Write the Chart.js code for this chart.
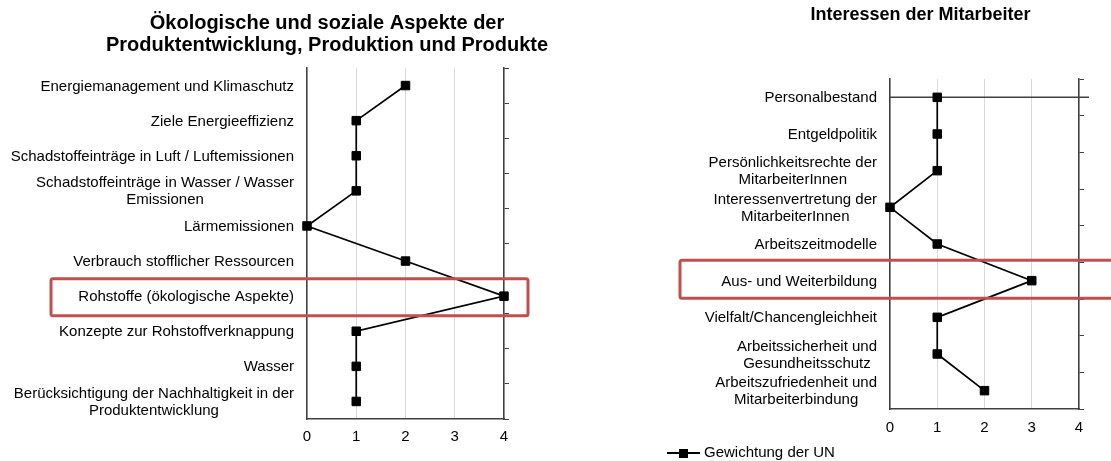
<!DOCTYPE html>
<html>
<head>
<meta charset="utf-8">
<script src="https://cdn.jsdelivr.net/npm/chart.js@4.4.1/dist/chart.umd.min.js"></script>
<style>
  html, body { margin: 0; padding: 0; width: 1111px; height: 461px; overflow: hidden; background: #fff; }
  .wrap { position: absolute; top: 0; height: 461px; }
  #w1 { left: 0; width: 654px; }
  #w2 { left: 660px; width: 521px; }
  #legend { position: absolute; left: 667px; top: 443px; font: 15px "Liberation Sans", Arial, sans-serif; line-height: 18px; color: #000; white-space: nowrap; }
  #legend .sym { display: inline-block; position: relative; width: 33px; height: 2px; background: #000; vertical-align: middle; margin-right: 4px; }
  #legend .sym i { position: absolute; left: 12px; top: -3.5px; width: 9px; height: 9px; background: #000; }
</style>
</head>
<body>
<div class="wrap" id="w1"><canvas id="chart_1"></canvas></div>
<div class="wrap" id="w2"><canvas id="chart_2"></canvas></div>
<div id="legend"><span class="sym"><i></i></span>Gewichtung der UN</div>

<script>
const FONT = '"Liberation Sans", Arial, sans-serif';

const seriesName = 'Gewichtung der UN';
const xTicks = [0, 1, 2, 3, 4];

const title1 = ['Ökologische und soziale Aspekte der', 'Produktentwicklung, Produktion und Produkte'];
const labels1 = [
  'Energiemanagement und Klimaschutz',
  'Ziele Energieeffizienz',
  'Schadstoffeinträge in Luft / Luftemissionen',
  ['Schadstoffeinträge in Wasser / Wasser', 'Emissionen'],
  'Lärmemissionen',
  'Verbrauch stofflicher Ressourcen',
  'Rohstoffe (ökologische Aspekte)',
  'Konzepte zur Rohstoffverknappung',
  'Wasser',
  ['Berücksichtigung der Nachhaltigkeit in der', 'Produktentwicklung']
];
const values1 = [2, 1, 1, 1, 0, 2, 4, 1, 1, 1];
const highlight1 = 6;

const title2 = 'Interessen der Mitarbeiter';
const labels2 = [
  'Personalbestand',
  'Entgeldpolitik',
  ['Persönlichkeitsrechte der', 'MitarbeiterInnen'],
  ['Interessenvertretung der', 'MitarbeiterInnen'],
  'Arbeitszeitmodelle',
  'Aus- und Weiterbildung',
  'Vielfalt/Chancengleichheit',
  ['Arbeitssicherheit und', 'Gesundheitsschutz'],
  ['Arbeitszufriedenheit und', 'Mitarbeiterbindung']
];
const values2 = [1, 1, 1, 0, 1, 3, 1, 1, 2];
const highlight2 = 5;

// category labels: block right-aligned, lines centred within the block
const catLabels = {
  id: 'catLabels',
  afterDraw(chart) {
    const ctx = chart.ctx;
    const ys = chart.scales.y;
    const right = chart.chartArea.left - 13;
    ctx.save();
    ctx.font = '15px ' + FONT;
    ctx.fillStyle = '#000';
    ctx.textAlign = 'center';
    ctx.textBaseline = 'middle';
    chart.data.labels.forEach((lab, i) => {
      const lines = [].concat(lab);
      const w = Math.max(...lines.map(l => ctx.measureText(l).width));
      const y = ys.getPixelForValue(i) + 1;
      lines.forEach((l, k) => {
        ctx.fillText(l, right - w / 2, y + (k - (lines.length - 1) / 2) * 17);
      });
    });
    ctx.restore();
  }
};

// red frame round the highlighted category
const highlightBox = {
  id: 'highlightBox',
  afterDraw(chart, args, opts) {
    const ctx = chart.ctx;
    const yc = chart.scales.y.getPixelForValue(opts.index);
    const x0 = opts.left;
    const x1 = chart.chartArea.right + opts.overRight;
    ctx.save();
    ctx.strokeStyle = '#c0504d';
    ctx.lineWidth = 3;
    ctx.beginPath();
    ctx.roundRect(x0, yc - opts.up, x1 - x0, opts.up + opts.down, 2);
    ctx.stroke();
    ctx.restore();
  }
};

// horizontal rule through the first category (right chart only)
const firstRowLine = {
  id: 'firstRowLine',
  beforeDatasetsDraw(chart, args, opts) {
    if (!opts.show) return;
    const ctx = chart.ctx;
    const y = chart.scales.y.getPixelForValue(0);
    ctx.save();
    ctx.strokeStyle = '#404040';
    ctx.lineWidth = 1.5;
    ctx.beginPath();
    ctx.moveTo(chart.chartArea.left, y);
    ctx.lineTo(chart.chartArea.right + 10, y);
    ctx.stroke();
    ctx.restore();
  }
};

function makeChart(id, title, labels, values, cfg) {
  const ctx = document.querySelector('#' + id).getContext('2d');
  return new Chart(ctx, {
    type: 'line',
    data: {
      labels: labels,
      datasets: [{
        label: seriesName,
        data: values,
        yAxisID: 'y',
        clip: false,
        borderColor: '#000',
        backgroundColor: '#000',
        borderWidth: 1.7,
        pointStyle: 'rect',
        pointRadius: 6,
        pointBorderWidth: 1,
        pointBackgroundColor: '#000',
        pointBorderColor: '#000'
      }]
    },
    options: {
      indexAxis: 'y',
      responsive: true,
      maintainAspectRatio: false,
      animation: false,
      layout: { padding: 0 },
      scales: {
        x: {
          type: 'linear',
          min: xTicks[0],
          max: xTicks[xTicks.length - 1],
          afterBuildTicks: s => { s.ticks = xTicks.map(v => ({ value: v })); },
          ticks: { padding: cfg.tickPad, color: '#000', font: { family: FONT, size: 15 } },
          grid: { color: '#d9d9d9', lineWidth: 1, drawTicks: false },
          border: { display: true, color: '#404040', width: 1.5 },
          afterFit: s => { s.height = cfg.xh; }
        },
        y: {
          type: 'category',
          position: 'left',
          offset: true,
          grid: { display: false },
          ticks: { display: false },
          border: { display: true, color: '#404040', width: 1.5 },
          afterFit: s => { s.width = cfg.yw; }
        },
        y2: {
          type: 'category',
          position: 'right',
          offset: true,
          grid: { offset: true, drawOnChartArea: false, color: '#404040', lineWidth: 1, tickLength: 5 },
          ticks: { display: false },
          border: { display: true, color: '#404040', width: 1.5 },
          afterFit: s => { s.width = cfg.y2w; }
        }
      },
      plugins: {
        legend: { display: false },
        tooltip: { enabled: false },
        title: {
          display: true,
          text: title,
          color: '#000',
          font: { family: FONT, size: cfg.titleSize, weight: 'bold', lineHeight: cfg.titleLh },
          padding: cfg.titlePad
        },
        highlightBox: cfg.box,
        firstRowLine: { show: cfg.rowLine }
      }
    },
    plugins: [catLabels, highlightBox, firstRowLine]
  });
}

makeChart('chart_1', title1, labels1, values1, {
  titleSize: 20, titleLh: 1.1, titlePad: { top: 12, bottom: 12 },
  xh: 42, yw: 307, y2w: 150, tickPad: 9, rowLine: false,
  box: { index: highlight1, left: 51, overRight: 24, up: 17.5, down: 19.5 }
});

makeChart('chart_2', title2, labels2, values2, {
  titleSize: 18, titleLh: 1.2, titlePad: { top: 4, bottom: 53.4 },
  xh: 52, yw: 230, y2w: 102, tickPad: 10, rowLine: true,
  box: { index: highlight2, left: 20, overRight: 60, up: 20.5, down: 17.5 }
});
</script>
</body>
</html>
